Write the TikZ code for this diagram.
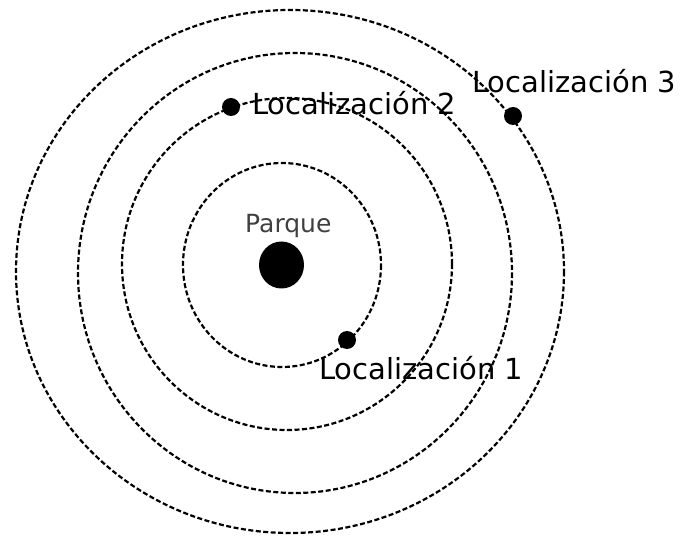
\documentclass[tikz,border=0pt]{standalone}
\usepackage{fontspec}
\setmainfont{DejaVu Sans}
\usetikzlibrary{shapes.geometric}
\begin{document}
\begin{tikzpicture}[x=1pt,y=-1pt,
  orbit/.style={draw=black,line width=2.2pt,dash pattern=on 5pt off 2.5pt},
  dot/.style={circle,fill=black,inner sep=0pt,minimum size=18pt},
  loclabel/.style={anchor=base west,inner sep=0pt,font=\fontsize{29}{29}\selectfont},
  parklabel/.style={anchor=base west,inner sep=0pt,font=\fontsize{25}{25}\selectfont,text=black!75}]
\useasboundingbox[fill=white] (0,0) rectangle (686,537);
% orbits
\draw[orbit] (282,265) ellipse [x radius=99, y radius=102];
\draw[orbit] (287,264) ellipse [x radius=165, y radius=166];
\draw[orbit] (295,273) ellipse [x radius=217, y radius=220];
\draw[orbit] (290,271.5) ellipse [x radius=274, y radius=261.5];
% park
\node[ellipse,fill=black,inner sep=0pt,minimum width=45pt,minimum height=47pt] (parque) at (281.5,265) {};
\node[parklabel] (parquelbl) at (245,233) {Parque};
% locations
\node[dot] (loc1) at (347,340) {};
\node[dot] (loc2) at (231,107) {};
\node[dot] (loc3) at (513,116) {};
\node[loclabel] (lbl1) at (319,380) {Localización 1};
\node[loclabel] (lbl2) at (252,115) {Localización 2};
\node[loclabel] (lbl3) at (472,93) {Localización 3};
\end{tikzpicture}
\end{document}
